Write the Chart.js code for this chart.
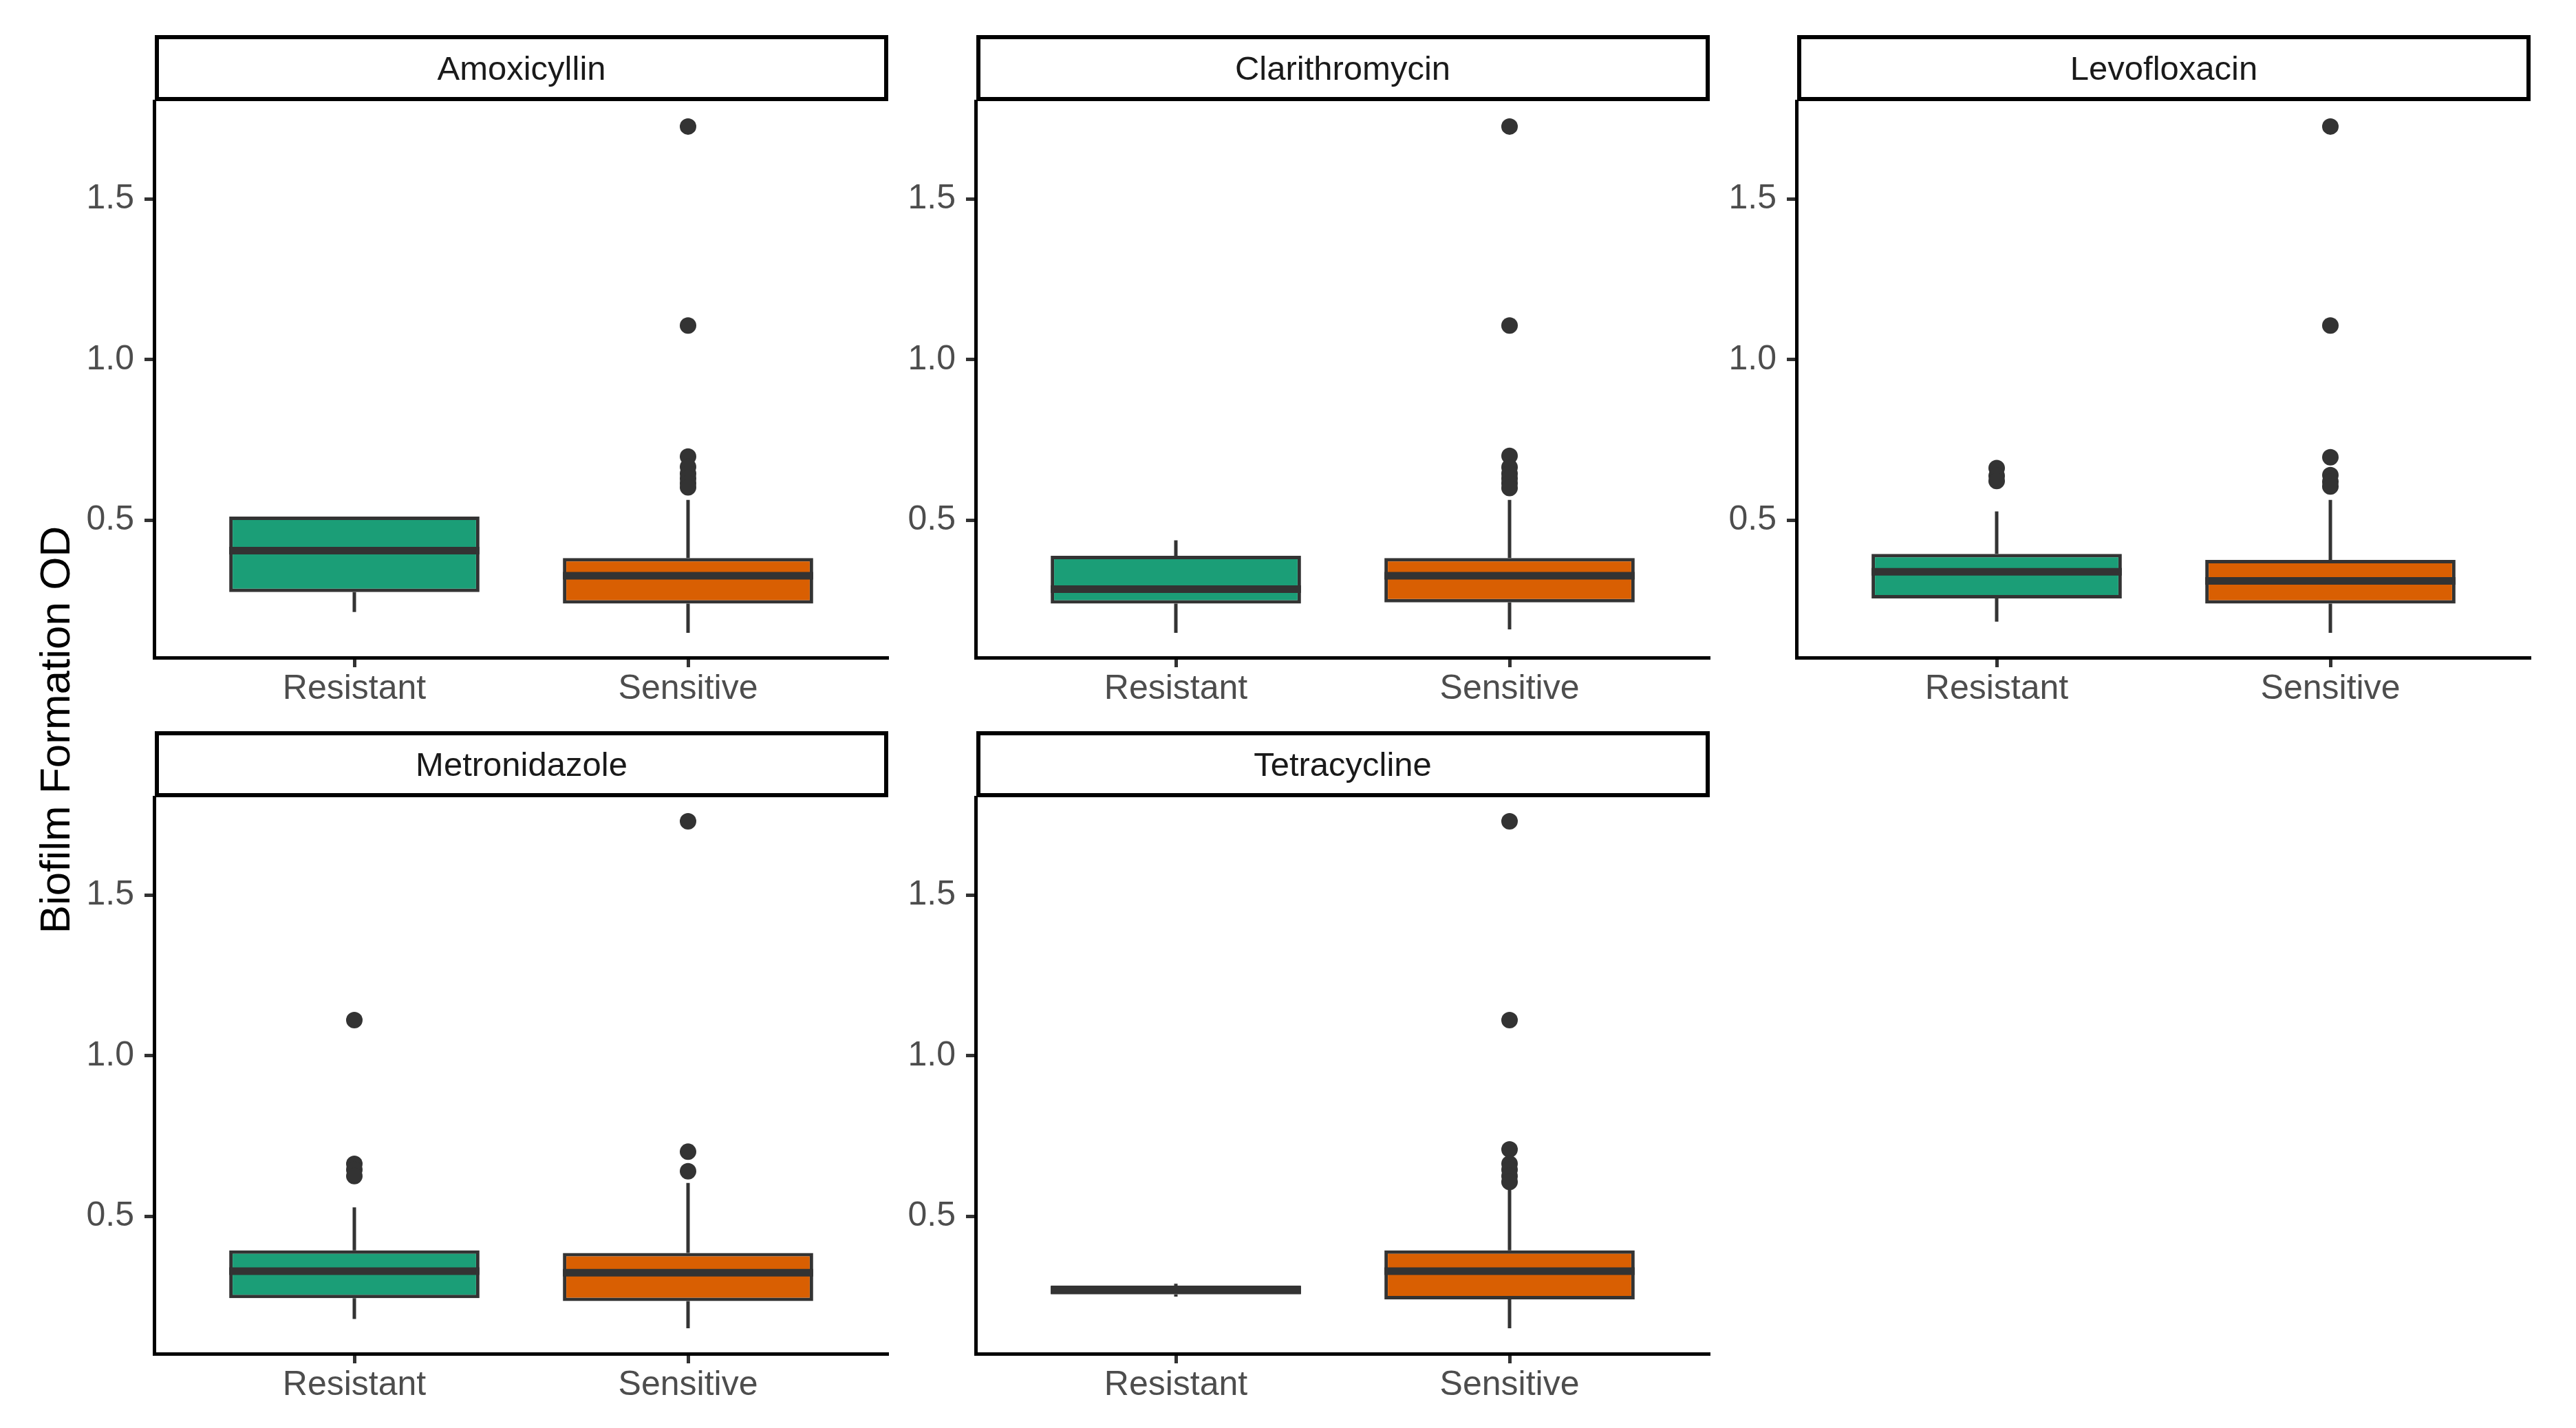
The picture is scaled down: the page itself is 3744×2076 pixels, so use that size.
<!DOCTYPE html>
<html>
<head>
<meta charset="utf-8">
<script src="https://cdn.jsdelivr.net/npm/chart.js@4.4.1/dist/chart.umd.min.js"></script>
<style>
    body { margin: 0; background: #fff; width: 3744px; height: 2076px; position: relative; overflow: hidden; font-family: "Liberation Sans", Arial, sans-serif; }
    .strip { position: absolute; box-sizing: border-box; border: 6px solid #000; background: #fff; display: flex; align-items: center; justify-content: center; font-size: 49px; color: #1a1a1a; }
    canvas { position: absolute; }
    #ytitle { position: absolute; left: 79px; top: 1061px; transform: translate(-50%, -50%) rotate(-90deg); font-size: 62px; white-space: nowrap; color: #000; }
</style>
</head>
<body>
<div id="ytitle">Biofilm Formation OD</div>
<script>
const drugs = ['Amoxicyllin', 'Clarithromycin', 'Levofloxacin', 'Metronidazole', 'Tetracycline']
const groups = ['Resistant', 'Sensitive']
const yTicks = [0.5, 1.0, 1.5]

// [lower whisker, Q1, median, Q3, upper whisker], one row per drug
const resistantStats = [
    [0.214, 0.276, 0.405, 0.511, 0.511],
    [0.149, 0.240, 0.285, 0.389, 0.437],
    [0.184, 0.256, 0.339, 0.395, 0.527],
    [0.180, 0.245, 0.329, 0.394, 0.528],
    [0.250, 0.257, 0.270, 0.284, 0.290]
]
const sensitiveStats = [
    [0.149, 0.240, 0.327, 0.382, 0.563],
    [0.160, 0.244, 0.327, 0.382, 0.563],
    [0.149, 0.240, 0.311, 0.376, 0.563],
    [0.151, 0.236, 0.324, 0.386, 0.604],
    [0.151, 0.241, 0.329, 0.394, 0.604]
]
const resistantOutliers = [
    [],
    [],
    [0.662, 0.638, 0.622],
    [1.111, 0.663, 0.645, 0.625],
    []
]
const sensitiveOutliers = [
    [1.726, 1.106, 0.698, 0.666, 0.645, 0.630, 0.615, 0.602],
    [1.726, 1.106, 0.700, 0.665, 0.645, 0.630, 0.615, 0.600],
    [1.726, 1.106, 0.696, 0.640, 0.620, 0.605],
    [1.730, 0.701, 0.640],
    [1.730, 1.111, 0.708, 0.664, 0.645, 0.625, 0.607]
]
const fillColors = ['#1B9E77', '#D95F02']

// panel geometry (page pixels)
const plotLefts = [224, 1417.5, 2611]
const plotW = 1067
const stripTops = [51, 1063]
const plotTops = [147, 1159]
const plotBottoms = [956, 1968]
const yMin = 0.072, yMax = 1.805

Chart.defaults.font.family = '"Liberation Sans", Arial, sans-serif'

// whiskers under the boxes, medians on top
const boxLines = {
    id: 'boxLines',
    beforeDatasetsDraw(chart) {
        const { ctx, scales: { x, y } } = chart
        const stats = chart.options.plugins.boxLines.stats
        ctx.save()
        ctx.strokeStyle = '#333333'
        ctx.lineWidth = 5
        stats.forEach((s, k) => {
            const cx = x.getPixelForValue(k + 1)
            ctx.beginPath()
            ctx.moveTo(cx, y.getPixelForValue(s[0]))
            ctx.lineTo(cx, y.getPixelForValue(s[1]))
            ctx.moveTo(cx, y.getPixelForValue(s[3]))
            ctx.lineTo(cx, y.getPixelForValue(s[4]))
            ctx.stroke()
        })
        ctx.restore()
    },
    afterDatasetsDraw(chart) {
        const { ctx, scales: { x, y } } = chart
        const stats = chart.options.plugins.boxLines.stats
        ctx.save()
        ctx.strokeStyle = '#333333'
        ctx.lineWidth = 11
        stats.forEach((s, k) => {
            const my = y.getPixelForValue(s[2])
            ctx.beginPath()
            ctx.moveTo(x.getPixelForValue(k + 1 - 0.375), my)
            ctx.lineTo(x.getPixelForValue(k + 1 + 0.375), my)
            ctx.stroke()
        })
        ctx.restore()
    }
}

function makePanel(i) {
    const col = i % 3, row = Math.floor(i / 3)
    const left = plotLefts[col]
    const top = plotTops[row]
    const plotH = plotBottoms[row] - top

    const strip = document.createElement('div')
    strip.className = 'strip'
    strip.textContent = drugs[i]
    strip.style.left = (left + 1) + 'px'
    strip.style.top = stripTops[row] + 'px'
    strip.style.width = (plotW - 1) + 'px'
    strip.style.height = (top - stripTops[row]) + 'px'
    document.body.appendChild(strip)

    const canvas = document.createElement('canvas')
    canvas.width = 200 + plotW
    canvas.height = plotH + 100
    document.body.appendChild(canvas)

    const stats = [resistantStats[i], sensitiveStats[i]]
    const points = []
    resistantOutliers[i].forEach(v => points.push({ x: 1, y: v }))
    sensitiveOutliers[i].forEach(v => points.push({ x: 2, y: v }))

    const chart = new Chart(canvas, {
        type: 'bar',
        data: {
            datasets: [{
                type: 'bar',
                data: stats.map((s, k) => ({ x: k + 1, y: [s[1], s[3]] })),
                backgroundColor: fillColors,
                borderColor: '#333333',
                borderWidth: 5,
                borderSkipped: false,
                barPercentage: 0.75,
                categoryPercentage: 1.0
            }, {
                type: 'scatter',
                data: points,
                pointRadius: 12,
                pointBackgroundColor: '#333333',
                pointBorderWidth: 0
            }]
        },
        options: {
            responsive: false,
            maintainAspectRatio: false,
            devicePixelRatio: 1,
            animation: false,
            layout: { padding: 0 },
            plugins: {
                legend: { display: false },
                tooltip: { enabled: false },
                boxLines: { stats: stats }
            },
            scales: {
                x: {
                    type: 'linear',
                    min: 0.4,
                    max: 2.6,
                    offset: false,
                    afterBuildTicks: (scale) => { scale.ticks = [{ value: 1 }, { value: 2 }] },
                    afterFit: (scale) => { scale.height = 100; scale.paddingLeft = 0; scale.paddingRight = 0 },
                    ticks: {
                        callback: (v) => groups[v - 1],
                        font: { size: 50 },
                        color: '#4d4d4d',
                        padding: 2,
                        maxRotation: 0
                    },
                    grid: { offset: false, drawOnChartArea: false, drawTicks: true, tickLength: 14, tickColor: '#333333', tickWidth: 5 },
                    border: { display: true, color: '#000000', width: 5 }
                },
                y: {
                    min: yMin,
                    max: yMax,
                    afterBuildTicks: (scale) => { scale.ticks = yTicks.map(v => ({ value: v })) },
                    afterFit: (scale) => { scale.width = 200; scale.paddingTop = 0; scale.paddingBottom = 0 },
                    ticks: {
                        callback: (v) => v.toFixed(1),
                        font: { size: 50 },
                        color: '#4d4d4d',
                        padding: 15
                    },
                    grid: { drawOnChartArea: false, drawTicks: true, tickLength: 14, tickColor: '#333333', tickWidth: 5 },
                    border: { display: true, color: '#000000', width: 5 }
                }
            }
        },
        plugins: [boxLines]
    })

    // fit the chart area exactly onto the panel rectangle
    const a = chart.chartArea
    chart.resize(chart.width + plotW - (a.right - a.left), chart.height + plotH - (a.bottom - a.top))
    const b = chart.chartArea
    canvas.style.left = (left - b.left) + 'px'
    canvas.style.top = (top - b.top) + 'px'
}

drugs.forEach((d, i) => makePanel(i))
</script>
</body>
</html>
